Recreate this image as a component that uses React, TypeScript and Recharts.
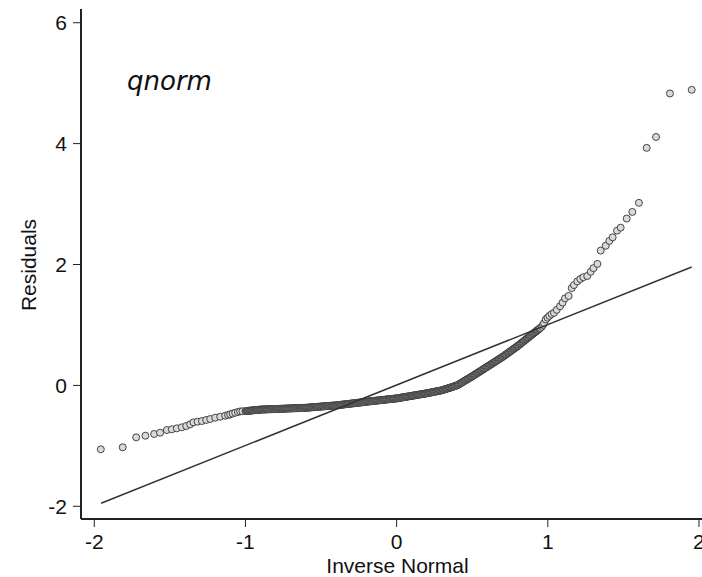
import { Label, Scatter, ScatterChart, XAxis, YAxis } from 'recharts'

// Normal quantile plot of residuals.
// Each entry is [inverse normal quantile, residual].

const LEFT_TAIL: Array<[number, number]> = [
  [-1.957, -1.057], [-1.812, -1.024], [-1.723, -0.859], [-1.662, -0.832],
  [-1.604, -0.804], [-1.565, -0.782], [-1.52, -0.738], [-1.487, -0.726],
  [-1.454, -0.71], [-1.421, -0.693], [-1.392, -0.672], [-1.366, -0.644],
  [-1.344, -0.611], [-1.317, -0.6], [-1.288, -0.589], [-1.26, -0.572],
  [-1.233, -0.556], [-1.2, -0.534], [-1.167, -0.518], [-1.134, -0.501],
  [-1.115, -0.49], [-1.101, -0.478], [-1.085, -0.465], [-1.068, -0.452],
  [-1.05, -0.44], [-1.035, -0.43], [-1.02, -0.428],
]

// the dense middle stretch, where the markers run together into a dark band
const MIDDLE_BAND: Array<[number, number]> = [
  [-1.0, -0.425], [-0.995, -0.424], [-0.99, -0.422], [-0.985, -0.421], [-0.98, -0.42],
  [-0.975, -0.419], [-0.97, -0.418], [-0.965, -0.417], [-0.96, -0.415], [-0.955, -0.414],
  [-0.95, -0.412], [-0.945, -0.411], [-0.94, -0.41], [-0.935, -0.409], [-0.93, -0.408],
  [-0.925, -0.407], [-0.92, -0.405], [-0.915, -0.404], [-0.91, -0.402], [-0.905, -0.401],
  [-0.9, -0.4], [-0.895, -0.4], [-0.89, -0.399], [-0.885, -0.399], [-0.88, -0.398],
  [-0.875, -0.398], [-0.87, -0.397], [-0.865, -0.397], [-0.86, -0.396], [-0.855, -0.396],
  [-0.85, -0.395], [-0.845, -0.395], [-0.84, -0.394], [-0.835, -0.394], [-0.83, -0.393],
  [-0.825, -0.393], [-0.82, -0.392], [-0.815, -0.392], [-0.81, -0.391], [-0.805, -0.391],
  [-0.8, -0.39], [-0.795, -0.39], [-0.79, -0.389], [-0.785, -0.389], [-0.78, -0.388],
  [-0.775, -0.388], [-0.77, -0.387], [-0.765, -0.387], [-0.76, -0.386], [-0.755, -0.386],
  [-0.75, -0.385], [-0.745, -0.385], [-0.74, -0.384], [-0.735, -0.384], [-0.73, -0.383],
  [-0.725, -0.383], [-0.72, -0.382], [-0.715, -0.382], [-0.71, -0.381], [-0.705, -0.381],
  [-0.7, -0.38], [-0.695, -0.38], [-0.69, -0.379], [-0.685, -0.379], [-0.68, -0.378],
  [-0.675, -0.378], [-0.67, -0.377], [-0.665, -0.377], [-0.66, -0.376], [-0.655, -0.376],
  [-0.65, -0.375], [-0.645, -0.375], [-0.64, -0.374], [-0.635, -0.374], [-0.63, -0.373],
  [-0.625, -0.373], [-0.62, -0.372], [-0.615, -0.372], [-0.61, -0.371], [-0.605, -0.371],
  [-0.6, -0.37], [-0.595, -0.369], [-0.59, -0.368], [-0.585, -0.367], [-0.58, -0.366],
  [-0.575, -0.365], [-0.57, -0.364], [-0.565, -0.363], [-0.56, -0.362], [-0.555, -0.361],
  [-0.55, -0.36], [-0.545, -0.359], [-0.54, -0.358], [-0.535, -0.357], [-0.53, -0.356],
  [-0.525, -0.355], [-0.52, -0.354], [-0.515, -0.353], [-0.51, -0.352], [-0.505, -0.351],
  [-0.5, -0.35], [-0.495, -0.349], [-0.49, -0.348], [-0.485, -0.347], [-0.48, -0.346],
  [-0.475, -0.345], [-0.47, -0.344], [-0.465, -0.343], [-0.46, -0.342], [-0.455, -0.341],
  [-0.45, -0.34], [-0.445, -0.339], [-0.44, -0.338], [-0.435, -0.337], [-0.43, -0.336],
  [-0.425, -0.335], [-0.42, -0.334], [-0.415, -0.333], [-0.41, -0.332], [-0.405, -0.331],
  [-0.4, -0.33], [-0.395, -0.329], [-0.39, -0.327], [-0.385, -0.326], [-0.38, -0.324],
  [-0.375, -0.323], [-0.37, -0.321], [-0.365, -0.32], [-0.36, -0.318], [-0.355, -0.317],
  [-0.35, -0.315], [-0.345, -0.314], [-0.34, -0.312], [-0.335, -0.311], [-0.33, -0.309],
  [-0.325, -0.308], [-0.32, -0.306], [-0.315, -0.305], [-0.31, -0.303], [-0.305, -0.302],
  [-0.3, -0.3], [-0.295, -0.299], [-0.29, -0.297], [-0.285, -0.296], [-0.28, -0.294],
  [-0.275, -0.293], [-0.27, -0.291], [-0.265, -0.29], [-0.26, -0.288], [-0.255, -0.287],
  [-0.25, -0.285], [-0.245, -0.284], [-0.24, -0.282], [-0.235, -0.281], [-0.23, -0.279],
  [-0.225, -0.278], [-0.22, -0.276], [-0.215, -0.275], [-0.21, -0.273], [-0.205, -0.272],
  [-0.2, -0.27], [-0.195, -0.269], [-0.19, -0.267], [-0.185, -0.266], [-0.18, -0.264],
  [-0.175, -0.263], [-0.17, -0.262], [-0.165, -0.26], [-0.16, -0.259], [-0.155, -0.258],
  [-0.15, -0.256], [-0.145, -0.255], [-0.14, -0.253], [-0.135, -0.252], [-0.13, -0.251],
  [-0.125, -0.249], [-0.12, -0.248], [-0.115, -0.247], [-0.11, -0.245], [-0.105, -0.244],
  [-0.1, -0.242], [-0.095, -0.241], [-0.09, -0.24], [-0.085, -0.238], [-0.08, -0.237],
  [-0.075, -0.236], [-0.07, -0.234], [-0.065, -0.233], [-0.06, -0.231], [-0.055, -0.23],
  [-0.05, -0.229], [-0.045, -0.227], [-0.04, -0.226], [-0.035, -0.225], [-0.03, -0.223],
  [-0.025, -0.222], [-0.02, -0.22], [-0.015, -0.219], [-0.01, -0.218], [-0.005, -0.216],
  [0.0, -0.215], [0.005, -0.213], [0.01, -0.211], [0.015, -0.209], [0.02, -0.207],
  [0.025, -0.205], [0.03, -0.202], [0.035, -0.2], [0.04, -0.198], [0.045, -0.196],
  [0.05, -0.194], [0.055, -0.192], [0.06, -0.19], [0.065, -0.188], [0.07, -0.185],
  [0.075, -0.183], [0.08, -0.181], [0.085, -0.179], [0.09, -0.177], [0.095, -0.175],
  [0.1, -0.173], [0.105, -0.171], [0.11, -0.168], [0.115, -0.166], [0.12, -0.164],
  [0.125, -0.162], [0.13, -0.16], [0.135, -0.158], [0.14, -0.156], [0.145, -0.154],
  [0.15, -0.151], [0.155, -0.149], [0.16, -0.147], [0.165, -0.145], [0.17, -0.143],
  [0.175, -0.141], [0.18, -0.139], [0.185, -0.137], [0.19, -0.134], [0.195, -0.132],
  [0.2, -0.13], [0.205, -0.128], [0.21, -0.125], [0.215, -0.123], [0.22, -0.12],
  [0.225, -0.118], [0.23, -0.115], [0.235, -0.113], [0.24, -0.11], [0.245, -0.108],
  [0.25, -0.105], [0.255, -0.103], [0.26, -0.1], [0.265, -0.098], [0.27, -0.095],
  [0.275, -0.093], [0.28, -0.09], [0.285, -0.088], [0.29, -0.085], [0.295, -0.083],
  [0.3, -0.08], [0.305, -0.076], [0.31, -0.072], [0.315, -0.068], [0.32, -0.064],
  [0.325, -0.06], [0.33, -0.056], [0.335, -0.052], [0.34, -0.048], [0.345, -0.044],
  [0.35, -0.04], [0.355, -0.036], [0.36, -0.032], [0.365, -0.028], [0.37, -0.024],
  [0.375, -0.02], [0.38, -0.016], [0.385, -0.012], [0.39, -0.008], [0.395, -0.004],
  [0.4, 0.0], [0.405, 0.008], [0.41, 0.015], [0.415, 0.023], [0.42, 0.03],
  [0.425, 0.038], [0.43, 0.045], [0.435, 0.053], [0.44, 0.06], [0.445, 0.068],
  [0.45, 0.075], [0.455, 0.083], [0.46, 0.09], [0.465, 0.098], [0.47, 0.105],
  [0.475, 0.113], [0.48, 0.12], [0.485, 0.128], [0.49, 0.135], [0.495, 0.143],
  [0.5, 0.15], [0.505, 0.158], [0.51, 0.166], [0.515, 0.174], [0.52, 0.182],
  [0.525, 0.19], [0.53, 0.198], [0.535, 0.206], [0.54, 0.214], [0.545, 0.222],
  [0.55, 0.23], [0.555, 0.238], [0.56, 0.246], [0.565, 0.254], [0.57, 0.262],
  [0.575, 0.27], [0.58, 0.278], [0.585, 0.286], [0.59, 0.294], [0.595, 0.302],
  [0.6, 0.31], [0.605, 0.318], [0.61, 0.326], [0.615, 0.334], [0.62, 0.342],
  [0.625, 0.35], [0.63, 0.358], [0.635, 0.366], [0.64, 0.374], [0.645, 0.382],
  [0.65, 0.39], [0.655, 0.398], [0.66, 0.406], [0.665, 0.414], [0.67, 0.422],
  [0.675, 0.43], [0.68, 0.438], [0.685, 0.446], [0.69, 0.454], [0.695, 0.462],
  [0.7, 0.47], [0.705, 0.479], [0.71, 0.488], [0.715, 0.497], [0.72, 0.506],
  [0.725, 0.515], [0.73, 0.524], [0.735, 0.533], [0.74, 0.542], [0.745, 0.551],
  [0.75, 0.56], [0.755, 0.569], [0.76, 0.578], [0.765, 0.587], [0.77, 0.596],
  [0.775, 0.605], [0.78, 0.614], [0.785, 0.623], [0.79, 0.632], [0.795, 0.641],
  [0.8, 0.65], [0.805, 0.66], [0.81, 0.67], [0.815, 0.68], [0.82, 0.69],
  [0.825, 0.7], [0.83, 0.71], [0.835, 0.72], [0.84, 0.73], [0.845, 0.74],
  [0.85, 0.75], [0.855, 0.76], [0.86, 0.77], [0.865, 0.78], [0.87, 0.79],
  [0.875, 0.8], [0.88, 0.81], [0.885, 0.82], [0.89, 0.83], [0.895, 0.84],
  [0.9, 0.85], [0.905, 0.86], [0.91, 0.87], [0.915, 0.88], [0.92, 0.89],
  [0.925, 0.9], [0.93, 0.91], [0.935, 0.92], [0.94, 0.93], [0.945, 0.94],
  [0.95, 0.95],
]

const RIGHT_TAIL: Array<[number, number]> = [
  [0.96, 0.97], [0.968, 1.0], [0.975, 1.03], [0.986, 1.09], [0.998, 1.12],
  [1.01, 1.15], [1.025, 1.18], [1.041, 1.2], [1.059, 1.25], [1.081, 1.31],
  [1.098, 1.37], [1.114, 1.44], [1.138, 1.48], [1.158, 1.61], [1.173, 1.66],
  [1.195, 1.72], [1.215, 1.76], [1.235, 1.79], [1.261, 1.81], [1.284, 1.88],
  [1.302, 1.94], [1.328, 2.01], [1.35, 2.23], [1.383, 2.31], [1.407, 2.39],
  [1.429, 2.45], [1.458, 2.56], [1.482, 2.61], [1.522, 2.76], [1.559, 2.87],
  [1.603, 3.02], [1.654, 3.93], [1.716, 4.11], [1.808, 4.83], [1.952, 4.89],
]

// fitted normal line, drawn across the range of the quantiles
const REFERENCE_LINE: Array<[number, number]> = [
  [-1.955, -1.95],
  [1.952, 1.96],
]

const X_TICKS = [-2, -1, 0, 1, 2]
const Y_TICKS = [-2, 0, 2, 4, 6]

const FONT = '"Liberation Sans", Arial, Helvetica, sans-serif'
const INK = '#222'

const toPoints = (rows: Array<[number, number]>) => rows.map(([x, y]) => ({ x, y }))

const residuals = toPoints([...LEFT_TAIL, ...MIDDLE_BAND, ...RIGHT_TAIL])
const fitLine = toPoints(REFERENCE_LINE)

function Marker(props: { cx?: number; cy?: number }) {
  if (props.cx == null || props.cy == null) return <g />
  return (
    <circle cx={props.cx} cy={props.cy} r={3.5} fill="#d9d9d9" stroke="#333" strokeWidth={0.9} />
  )
}

const tickStyle = { fill: '#111', fontSize: 21, fontFamily: FONT }

export default function App() {
  return (
    <div
      style={{
        position: 'absolute',
        left: 0,
        top: 0,
        width: 702,
        height: 577,
        overflow: 'hidden',
        background: '#fff',
      }}
    >
      <ScatterChart width={720} height={577} margin={{ top: 9, right: 10, bottom: 0, left: 20 }}>
        <XAxis
          xAxisId="top"
          orientation="top"
          type="number"
          dataKey="x"
          domain={[-2.088, 2.073]}
          allowDataOverflow
          height={0}
          tick={false}
          tickLine={false}
          axisLine={{ stroke: INK, strokeWidth: 1.6 }}
        />
        <XAxis
          type="number"
          dataKey="x"
          domain={[-2.088, 2.073]}
          allowDataOverflow
          ticks={X_TICKS}
          height={58}
          tickSize={8}
          tickMargin={7}
          tick={tickStyle}
          tickLine={{ stroke: INK, strokeWidth: 1 }}
          axisLine={{ stroke: INK, strokeWidth: 2 }}
        >
          <Label
            content={() => (
              <text x={397.5} y={573} textAnchor="middle" fontSize={21} fontFamily={FONT} fill="#111">
                Inverse Normal
              </text>
            )}
          />
        </XAxis>
        <YAxis
          type="number"
          dataKey="y"
          domain={[-2.21, 6.227]}
          allowDataOverflow
          ticks={Y_TICKS}
          width={61}
          tickSize={8}
          tickMargin={6}
          tick={tickStyle}
          tickLine={{ stroke: INK, strokeWidth: 1 }}
          axisLine={{ stroke: INK, strokeWidth: 2 }}
        >
          <Label
            content={() => (
              <text
                x={36}
                y={265}
                transform="rotate(-90 36 265)"
                textAnchor="middle"
                fontSize={21}
                fontFamily={FONT}
                fill="#111"
              >
                Residuals
              </text>
            )}
          />
        </YAxis>
        <Scatter data={residuals} shape={Marker} isAnimationActive={false} />
        <Scatter
          data={fitLine}
          line={{ stroke: '#333', strokeWidth: 1.5 }}
          shape={() => <g />}
          legendType="none"
          isAnimationActive={false}
        />
      </ScatterChart>
      <svg
        width={702}
        height={577}
        style={{ position: 'absolute', left: 0, top: 0, pointerEvents: 'none' }}
      >
        <text
          x={127}
          y={90}
          fontSize={26}
          fontStyle="italic"
          fontFamily='"DejaVu Sans", sans-serif'
          fill="#111"
        >
          qnorm
        </text>
      </svg>
    </div>
  )
}
